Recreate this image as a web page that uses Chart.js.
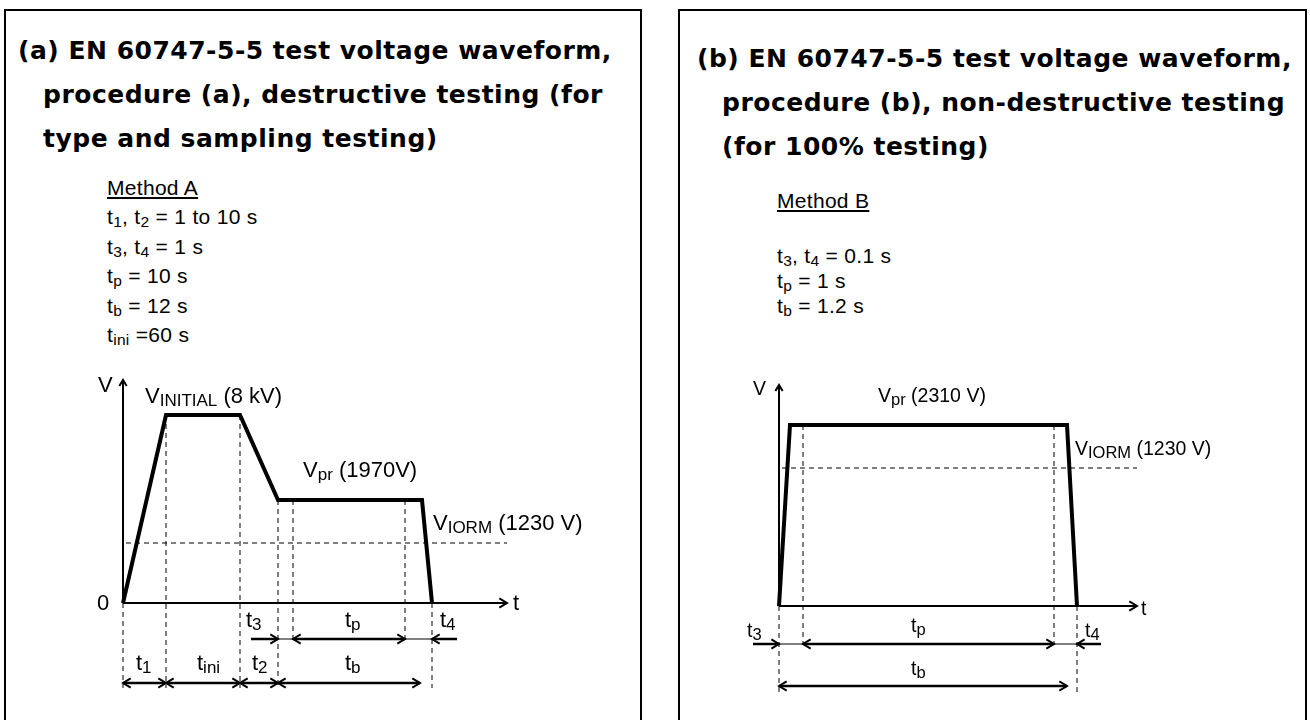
<!DOCTYPE html>
<html>
<head>
<meta charset="utf-8">
<title>EN 60747-5-5 test voltage waveforms</title>
<script src="https://cdn.jsdelivr.net/npm/chart.js@4.4.1/dist/chart.umd.min.js"></script>
<style>
  body { margin:0; width:1310px; height:720px; overflow:hidden; background:#fff; position:relative;
         font-family:"Liberation Sans", Arial, sans-serif; color:#000; }
  .panel { position:absolute; top:9px; height:720px; border:2px solid #000; border-bottom:none; box-sizing:border-box; }
  #panelA { left:4px; width:638px; }
  #panelB { left:678px; width:629px; }
  .title { position:absolute; font:bold 25px "DejaVu Sans", Verdana, sans-serif; letter-spacing:0.5px;
           line-height:44px; white-space:nowrap; }
  .title span { display:block; }
  .title .ind { padding-left:25px; }
  .method { position:absolute; font-size:21px; letter-spacing:0.3px; white-space:nowrap; }
  .method div { height:29.4px; line-height:29.4px; }
  .method.b div { height:25px; line-height:25px; }
  .method u { text-decoration-thickness:2px; text-underline-offset:2px; }
  sub { font-size:0.74em; vertical-align:-0.22em; line-height:0; }
  .chartbox { position:absolute; }
</style>
</head>
<body>

<div class="panel" id="panelA"></div>
<div class="panel" id="panelB"></div>

<div class="title" style="left:18px; top:29px">
  <span>(a) EN 60747-5-5 test voltage waveform,</span>
  <span class="ind">procedure (a), destructive testing (for</span>
  <span class="ind">type and sampling testing)</span>
</div>
<div class="title" style="left:697px; top:37px">
  <span>(b) EN 60747-5-5 test voltage waveform,</span>
  <span class="ind">procedure (b), non-destructive testing</span>
  <span class="ind">(for 100% testing)</span>
</div>

<div class="method" style="left:107px; top:173px">
  <div><u>Method A</u></div>
  <div>t<sub>1</sub>, t<sub>2</sub> = 1 to 10 s</div>
  <div>t<sub>3</sub>, t<sub>4</sub> = 1 s</div>
  <div>t<sub>p</sub> = 10 s</div>
  <div>t<sub>b</sub> = 12 s</div>
  <div>t<sub>ini</sub> =60 s</div>
</div>
<div class="method b" style="left:777px; top:188px">
  <div><u>Method B</u></div>
</div>
<div class="method b" style="left:777px; top:243px">
  <div>t<sub>3</sub>, t<sub>4</sub> = 0.1 s</div>
  <div>t<sub>p</sub> = 1 s</div>
  <div>t<sub>b</sub> = 1.2 s</div>
</div>

<div class="chartbox" style="left:60px; top:360px; width:578px; height:350px"><canvas id="chartA"></canvas></div>
<div class="chartbox" style="left:720px; top:360px; width:580px; height:350px"><canvas id="chartB"></canvas></div>

<script>
// schematic units (diagram is not to scale)

// ---- procedure (a) ----
const waveA_t = [0, 4.3, 11.7, 15.5, 29.9, 30.9];
const waveA_v = [0, 18.8, 18.8, 10.3, 10.3, 0];
const marksA_t   = [0, 4.3, 11.7, 15.5, 17.0, 28.2, 30.9];
const marksA_top = [0, 18.8, 18.8, 10.3, 10.3, 10.3, 0];
const marksA_bot = [-8.5, -8.5, -8.5, -8.5, -4.0, -4.0, -8.5];
const viormA = 6.0;
const axisA = [38.4, 22.3];        // t axis end, V axis end
const rowsA = [-3.6, -8.0];        // dimension rows
const dimA1_from = [12.8, 17.0, 33.4];
const dimA1_to   = [15.5, 28.2, 30.9];
const dimA1_head = ['end', 'both', 'end'];
const linkA1 = [[15.5, 17.0], [28.2, 30.9]];
const dimA2_from = [0, 4.3, 11.7, 15.5];
const dimA2_to   = [4.3, 11.7, 15.5, 29.7];

// ---- procedure (b) ----
const waveB_t = [0, 1.1, 28.8, 29.8];
const waveB_v = [0, 18.1, 18.1, 0];
const marksB_t   = [0, 2.4, 27.5, 29.8];
const marksB_top = [0, 18.1, 18.1, 0];
const marksB_bot = [-8.6, -3.9, -3.9, -8.6];
const viormB = 13.8;
const axisB = [35.8, 22.1];
const rowsB = [-3.8, -8.0];
const dimB1_from = [-2.6, 2.4, 32.2];
const dimB1_to   = [0, 27.5, 29.8];
const dimB1_head = ['end', 'both', 'end'];
const linkB1 = [[0, 2.4], [27.5, 29.8]];
const dimB2_from = [0];
const dimB2_to   = [28.8];

const labelsA = [
  { x: -2.5, y: 21.1, text: 'V' },
  { x: -2.6, y: -0.7, text: '0' },
  { x: 39.0, y: -0.7, text: 't' },
  { x: 2.2,  y: 20.0, text: 'V_{INITIAL} (8 kV)' },
  { x: 18.0, y: 12.6, text: 'V_{pr} (1970V)' },
  { x: 31.0, y: 7.3,  text: 'V_{IORM} (1230 V)' },
  { x: 12.3, y: -2.4, text: 't_{3}' },
  { x: 22.2, y: -2.4, text: 't_{p}' },
  { x: 31.7, y: -2.4, text: 't_{4}' },
  { x: 1.3,  y: -6.7, text: 't_{1}' },
  { x: 7.4,  y: -6.7, text: 't_{ini}' },
  { x: 12.9, y: -6.7, text: 't_{2}' },
  { x: 22.2, y: -6.7, text: 't_{b}' }
];
const labelsB = [
  { x: -2.6, y: 21.1, text: 'V' },
  { x: 36.2, y: -0.9, text: 't' },
  { x: 9.9,  y: 20.4, text: 'V_{pr} (2310 V)' },
  { x: 29.6, y: 15.1, text: 'V_{IORM} (1230 V)' },
  { x: -3.2, y: -3.1, text: 't_{3}' },
  { x: 13.2, y: -2.6, text: 't_{p}' },
  { x: 30.6, y: -3.1, text: 't_{4}' },
  { x: 13.2, y: -6.9, text: 't_{b}' }
];

function seg(x0, y0, x1, y1, extra) {
  return Object.assign({
    data: [{x: x0, y: y0}, {x: x1, y: y1}],
    showLine: true, pointRadius: 0, borderColor: '#000', borderWidth: 1,
    borderCapStyle: 'butt', fill: false
  }, extra || {});
}

function buildDatasets(t, v, mT, mTop, mBot, viorm, axis, rows, d1f, d1t, d1h, links, d2f, d2t) {
  const ds = [];
  // dashed guides
  mT.forEach((m, i) => ds.push(seg(m, mTop[i], m, mBot[i], { borderDash: [5, 4] })));
  ds.push(seg(0.3, viorm, axis[0], viorm, { borderDash: [5, 4] }));
  // axes
  ds.push(seg(0, 0, 0, axis[1], { borderWidth: 2, arrow: 'end', headSize: 7 }));
  ds.push(seg(0, 0, axis[0], 0, { borderWidth: 2, arrow: 'end', headSize: 9 }));
  // waveform
  ds.push({
    data: t.map((ti, i) => ({x: ti, y: v[i]})),
    showLine: true, pointRadius: 0, borderColor: '#000', borderWidth: 4,
    borderJoinStyle: 'miter', fill: false
  });
  // dimension arrows
  d1f.forEach((f, i) => ds.push(seg(f, rows[0], d1t[i], rows[0], { borderWidth: 2.5, arrow: d1h[i], headSize: 9 })));
  links.forEach(l => ds.push(seg(l[0], rows[0], l[1], rows[0], { borderWidth: 1 })));
  d2f.forEach((f, i) => ds.push(seg(f, rows[1], d2t[i], rows[1], { borderWidth: 2.5, arrow: 'both', headSize: 9 })));
  return ds;
}

function head(ctx, from, to, size) {
  const a = Math.atan2(to[1] - from[1], to[0] - from[0]);
  ctx.beginPath();
  ctx.moveTo(to[0] - size * Math.cos(a - 0.55), to[1] - size * Math.sin(a - 0.55));
  ctx.lineTo(to[0], to[1]);
  ctx.lineTo(to[0] - size * Math.cos(a + 0.55), to[1] - size * Math.sin(a + 0.55));
  ctx.stroke();
}

function drawLabel(ctx, px, py, text, opts) {
  const parts = text.split(/(_\{[^}]*\})/).filter(Boolean);
  let cx = px;
  parts.forEach(p => {
    const sub = p.startsWith('_{');
    const s = sub ? p.slice(2, -1) : p;
    ctx.font = (sub ? opts.subSize : opts.size) + 'px "Liberation Sans", Arial, sans-serif';
    ctx.fillText(s, cx, sub ? py + 3 : py);
    cx += ctx.measureText(s).width;
  });
}

const schematic = {
  id: 'schematic',
  afterDatasetsDraw(chart, args, opts) {
    const ctx = chart.ctx, xs = chart.scales.x, ys = chart.scales.y;
    ctx.save();
    ctx.strokeStyle = '#000';
    ctx.fillStyle = '#000';
    ctx.lineCap = 'butt';
    chart.data.datasets.forEach(ds => {
      if (!ds.arrow) return;
      const p = ds.data.map(d => [xs.getPixelForValue(d.x), ys.getPixelForValue(d.y)]);
      ctx.lineWidth = Math.min(ds.borderWidth, 2);
      if (ds.arrow === 'end' || ds.arrow === 'both') head(ctx, p[0], p[1], ds.headSize);
      if (ds.arrow === 'both') head(ctx, p[1], p[0], ds.headSize);
    });
    ctx.textBaseline = 'alphabetic';
    ctx.textAlign = 'left';
    (opts.labels || []).forEach(l => drawLabel(ctx, xs.getPixelForValue(l.x), ys.getPixelForValue(l.y), l.text, opts));
    ctx.restore();
  }
};

function makeChart(id, datasets, labels, xr, yr, size, subSize) {
  return new Chart(document.getElementById(id), {
    type: 'scatter',
    data: { datasets: datasets },
    plugins: [schematic],
    options: {
      responsive: true,
      maintainAspectRatio: false,
      animation: false,
      layout: { padding: 0 },
      events: [],
      plugins: {
        legend: { display: false },
        tooltip: { enabled: false },
        schematic: { labels: labels, size: size, subSize: subSize }
      },
      scales: {
        x: { type: 'linear', display: false, min: xr[0], max: xr[1] },
        y: { type: 'linear', display: false, min: yr[0], max: yr[1] }
      }
    }
  });
}

makeChart('chartA',
  buildDatasets(waveA_t, waveA_v, marksA_t, marksA_top, marksA_bot, viormA, axisA, rowsA,
                dimA1_from, dimA1_to, dimA1_head, linkA1, dimA2_from, dimA2_to),
  labelsA, [-6.3, 51.5], [-10.7, 24.3], 22, 17);

makeChart('chartB',
  buildDatasets(waveB_t, waveB_v, marksB_t, marksB_top, marksB_bot, viormB, axisB, rowsB,
                dimB1_from, dimB1_to, dimB1_head, linkB1, dimB2_from, dimB2_to),
  labelsB, [-5.9, 52.1], [-10.4, 24.6], 19.5, 16.5);
</script>
</body>
</html>
